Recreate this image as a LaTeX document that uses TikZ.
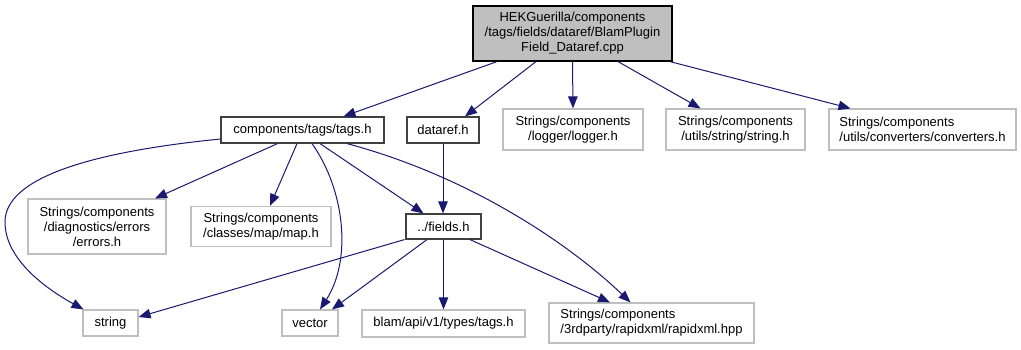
\documentclass[tikz,border=0pt]{standalone}
\usepackage{fontspec}
\setmainfont{Liberation Sans}
\usetikzlibrary{arrows.meta}
\definecolor{edgeblue}{HTML}{191970}
\definecolor{graybox}{HTML}{BFBFBF}
\definecolor{darkborder}{HTML}{404040}
\tikzset{
  base/.style={inner sep=0pt, font=\fontsize{13}{15}\selectfont, align=center, line width=1.2pt},
  solidbox/.style={base, draw=darkborder, fill=white},
  extbox/.style={base, draw=graybox, fill=white},
  rootbox/.style={base, draw=black, fill=graybox},
  dep/.style={draw=edgeblue, line width=1pt, -{Triangle[length=12pt,width=9.5pt]}}
}
\begin{document}
\begin{tikzpicture}[x=1pt,y=-1pt]
\useasboundingbox[fill=white] (0,0) rectangle (1021,349);
\node[rootbox, minimum width=199pt, minimum height=55pt] (root) at (572.5,33.5)
  {HEKGuerilla/components\\/tags/fields/dataref/BlamPlugin\\Field\_Dataref.cpp};
\node[solidbox, minimum width=163pt, minimum height=26pt] (tagsh) at (302.5,130) {components/tags/tags.h};
\node[solidbox, minimum width=72pt, minimum height=26pt] (dataref) at (443,130) {dataref.h};
\node[extbox, minimum width=140pt, minimum height=41pt] (logger) at (573,129.5) {Strings/components\\/logger/logger.h};
\node[extbox, minimum width=139pt, minimum height=41pt] (ustring) at (735.5,129.5) {Strings/components\\/utils/string/string.h};
\node[extbox, minimum width=187pt, minimum height=41pt, align=left] (conv) at (922.5,129.5) {Strings/components\\/utils/converters/converters.h};
\node[extbox, minimum width=138pt, minimum height=55pt] (errors) at (97,226.5) {Strings/components\\/diagnostics/errors\\/errors.h};
\node[extbox, minimum width=140pt, minimum height=40pt] (map) at (261,226.5) {Strings/components\\/classes/map/map.h};
\node[solidbox, minimum width=75pt, minimum height=25pt] (fields) at (443.5,226.5) {../fields.h};
\node[extbox, minimum width=55pt, minimum height=26pt] (string) at (110.5,323) {string};
\node[extbox, minimum width=56pt, minimum height=26pt] (vector) at (310,323) {vector};
\node[extbox, minimum width=163pt, minimum height=27pt] (blam) at (443.5,323.5) {blam/api/v1/types/tags.h};
\node[extbox, minimum width=205pt, minimum height=40pt, align=left] (rapid) at (651.5,323) {Strings/components\\/3rdparty/rapidxml/rapidxml.hpp};

\draw[dep] ([xshift=-75.5pt]root.south) -- ([xshift=41pt]tagsh.north);
\draw[dep] ([xshift=-36.5pt]root.south) -- ([xshift=22pt]dataref.north);
\draw[dep] (root.south) -- (logger.north);
\draw[dep] ([xshift=45.5pt]root.south) -- ([xshift=-35pt]ustring.north);
\draw[dep] ([xshift=97.5pt]root.south) -- ([xshift=-72pt]conv.north);

\draw[dep] ([yshift=-9pt]tagsh.west) .. controls (90,152) and (5,178) .. (5,222) .. controls (5,262) and (52,292) .. ([xshift=-27pt]string.north);
\draw[dep] ([xshift=-25pt]tagsh.south) -- ([xshift=58pt]errors.north);
\draw[dep] ([xshift=-5.5pt]tagsh.south) -- ([xshift=9pt]map.north);
\draw[dep] ([xshift=9.5pt]tagsh.south) .. controls (345,190) and (352,260) .. ([xshift=10pt]vector.north);
\draw[dep] ([xshift=17.5pt]tagsh.south) -- ([xshift=-20pt]fields.north);
\draw[dep] ([xshift=44.5pt]tagsh.south) .. controls (465,175) and (565,240) .. ([xshift=-21pt]rapid.north);
\draw[dep] (dataref.south) -- (dataref.south |- fields.north);

\draw[dep] ([xshift=-1pt]fields.south west) -- ([yshift=6pt]string.east);
\draw[dep] ([xshift=-16.5pt]fields.south) -- ([xshift=22pt]vector.north);
\draw[dep] (fields.south) -- (blam.north);
\draw[dep] ([xshift=26.5pt]fields.south) -- ([xshift=-41.5pt]rapid.north);
\end{tikzpicture}
\end{document}
